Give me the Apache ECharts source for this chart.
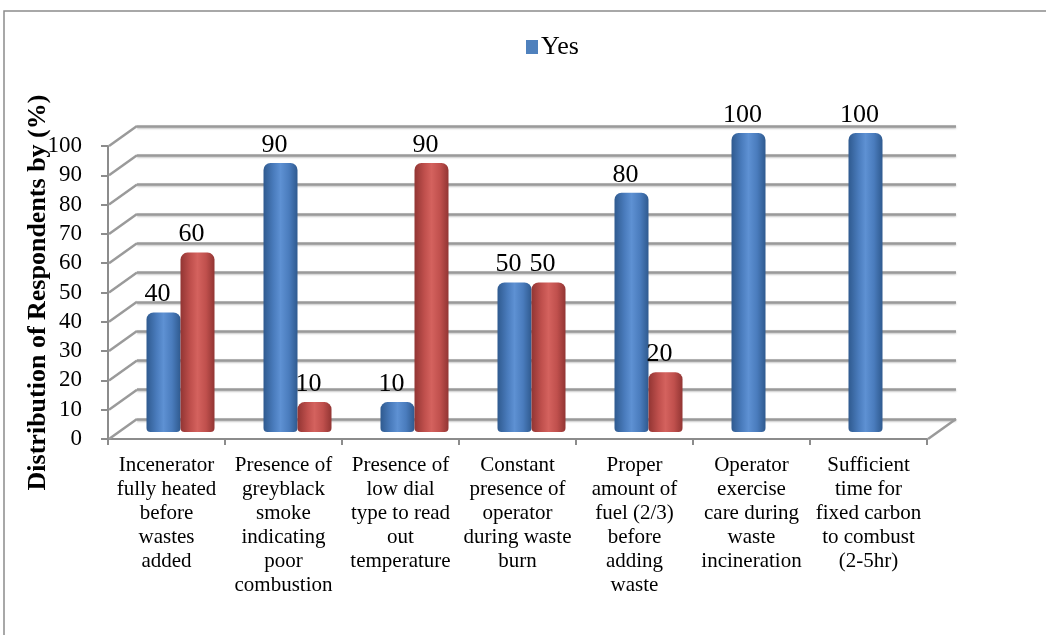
<!DOCTYPE html>
<html><head><meta charset="utf-8">
<script src="https://cdn.jsdelivr.net/npm/echarts@6/dist/echarts.min.js"></script>
<style>html,body{margin:0;padding:0;background:#fff}#c{width:1046px;height:635px}</style>
</head><body><div id="c"></div>
<script>
const categories = [
  'Incenerator\nfully heated\nbefore\nwastes\nadded',
  'Presence of\ngreyblack\nsmoke\nindicating\npoor\ncombustion',
  'Presence of\nlow dial\ntype to read\nout\ntemperature',
  'Constant\npresence of\noperator\nduring waste\nburn',
  'Proper\namount of\nfuel (2/3)\nbefore\nadding\nwaste',
  'Operator\nexercise\ncare during\nwaste\nincineration',
  'Sufficient\ntime for\nfixed carbon\nto combust\n(2-5hr)'
];
const yesValues = [40, 90, 10, 50, 80, 100, 100];
const noValues = [60, 10, 90, 50, 20, null, null];
const yTicks = [0, 10, 20, 30, 40, 50, 60, 70, 80, 90, 100];

const FONT = '"Liberation Serif", "Times New Roman", serif';
const DX = -28, DY = 20; // depth offset from back wall to front

function grad(edge, mid, light) {
  return new echarts.graphic.LinearGradient(0, 0, 1, 0, [
    {offset: 0, color: edge}, {offset: 0.3, color: mid}, {offset: 0.5, color: light},
    {offset: 0.75, color: mid}, {offset: 1, color: edge}
  ]);
}

const chart = echarts.init(document.getElementById('c'));
chart.setOption({
  animation: false,
  graphic: [{type: 'rect', shape: {x: 4, y: 11, width: 1100, height: 700},
    style: {fill: 'none', stroke: '#8c8c8c', lineWidth: 1.5}, z: 0}],
  legend: {data: [{name: 'Yes', itemStyle: {color: '#4f81bd'}}], left: 521, top: 29, itemWidth: 12, itemHeight: 14, itemGap: 4, icon: 'rect',
    textStyle: {fontFamily: FONT, fontSize: 26, color: '#000', padding: [0, 0, 0, -2]}},
  grid: [
    {left: 137, right: 90, top: 126, bottom: 216},   // back wall
    {left: 108, right: 119, top: 146, bottom: 196},  // front axes
    {left: 122, right: 105, top: 133, bottom: 203}   // bars
  ],
  xAxis: [
    {gridIndex: 0, type: 'value', min: 0, max: 1, show: false},
    {gridIndex: 1, type: 'category', data: categories,
      axisLine: {lineStyle: {color: '#8c8c8c', width: 2}},
      axisTick: {show: true, length: 6, lineStyle: {color: '#8c8c8c', width: 2}},
      axisLabel: {fontFamily: FONT, fontSize: 21, color: '#000', lineHeight: 24, margin: 14, interval: 0}},
    {gridIndex: 2, type: 'category', data: categories, show: false}
  ],
  yAxis: [
    {gridIndex: 0, type: 'value', min: 0, max: 100, interval: 10,
      axisLine: {show: false}, axisTick: {show: false}, axisLabel: {show: false},
      splitLine: {lineStyle: {color: '#9a9a9a', width: 2.5, shadowColor: 'rgba(0,0,0,0.25)', shadowBlur: 2, shadowOffsetY: 1}}},
    {gridIndex: 1, type: 'value', min: 0, max: 100, interval: 10,
      name: 'Distribution of Respondents by (%)', nameLocation: 'middle', nameGap: 57, nameRotate: 90,
      nameMoveOverlap: false,
      nameTextStyle: {fontFamily: FONT, fontSize: 26, fontWeight: 'bold', color: '#000'},
      axisLine: {show: true, lineStyle: {color: '#8c8c8c', width: 2}},
      axisTick: {show: true, length: 7, lineStyle: {color: '#8c8c8c', width: 2}},
      axisLabel: {fontFamily: FONT, fontSize: 23, color: '#000', margin: 26},
      splitLine: {show: false}},
    {gridIndex: 2, type: 'value', min: 0, max: 100, show: false, splitLine: {show: false}}
  ],
  series: [
    {type: 'custom', xAxisIndex: 0, yAxisIndex: 0, silent: true, z: 1,
      data: yTicks.map(v => [0, v]),
      renderItem: function (params, api) {
        const v = api.value(1);
        const p = api.coord([0, v]);
        const children = [{type: 'line', shape: {x1: p[0], y1: p[1], x2: p[0] + DX, y2: p[1] + DY},
          style: {stroke: '#9a9a9a', lineWidth: 2.5}}];
        if (v === 0) {
          const q = api.coord([1, 0]);
          children.push({type: 'line', shape: {x1: q[0], y1: q[1], x2: q[0] + DX, y2: q[1] + DY},
            style: {stroke: '#9a9a9a', lineWidth: 2.5}});
        }
        return {type: 'group', children: children};
      }},
    {name: 'Yes', type: 'bar', xAxisIndex: 2, yAxisIndex: 2, data: yesValues, barWidth: 34, barGap: '0%', z: 5,
      itemStyle: {color: grad('#2f5a8f', '#4a7cbd', '#5e91d3'), borderRadius: [7, 7, 4, 4]},
      label: {show: true, position: 'top', distance: 5, offset: [-6, 0], fontFamily: FONT, fontSize: 26, color: '#000'}},
    {name: 'No', type: 'bar', xAxisIndex: 2, yAxisIndex: 2, data: noValues, barWidth: 34, barGap: '0%', z: 5,
      itemStyle: {color: grad('#923533', '#c0504d', '#d4625e'), borderRadius: [7, 7, 4, 4]},
      label: {show: true, position: 'top', distance: 5, offset: [-6, 0], fontFamily: FONT, fontSize: 26, color: '#000',
        formatter: p => (p.value == null ? '' : p.value)}}
  ]
});
</script></body></html>
